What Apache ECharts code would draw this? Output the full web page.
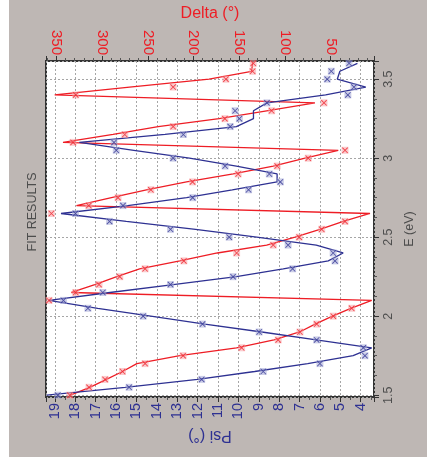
<!DOCTYPE html>
<html>
<head>
<meta charset="utf-8">
<script src="https://cdn.jsdelivr.net/npm/echarts@6/dist/echarts.min.js"></script>
<style>
  html, body { margin: 0; padding: 0; background: #ffffff; }
  #chart { width: 427px; height: 468px; }
</style>
</head>
<body>
<div id="chart"></div>
<script>
// Photon energy grid (eV)
const energy = [1.50, 1.55, 1.60, 1.65, 1.70, 1.75, 1.80, 1.85, 1.90, 1.95,
                2.00, 2.05, 2.10, 2.15, 2.20, 2.25, 2.30, 2.35, 2.40, 2.45,
                2.50, 2.55, 2.60, 2.65, 2.70, 2.75, 2.80, 2.85, 2.90, 2.95,
                3.00, 3.05, 3.10, 3.15, 3.20, 3.25, 3.30, 3.35, 3.40, 3.45,
                3.50, 3.55, 3.60];

// Measured ellipsometric angles (deg)
const psiMeasured = [18.86, 15.36, 11.8, 8.78, 6.0, 3.79, 3.87, 6.16, 8.98, 11.76,
                     14.67, 17.38, 18.58, 16.65, 13.33, 10.26, 7.34, 5.26, 5.35, 7.56,
                     10.45, 13.33, 16.32, 17.99, 15.66, 12.24, 9.5, 7.94, 8.48, 10.65,
                     13.2, 15.99, 16.1, 12.7, 10.4, 9.95, 10.16, 8.6, 4.63, 4.33,
                     5.64, 5.44, 4.57];
const deltaMeasured = [335.4, 314.3, 296.8, 277.7, 253, 211.4, 147.4, 107.4, 83.6, 65.3,
                       47.1, 27, 358.1, 328.9, 303.4, 280.7, 253, 210.6, 152.9, 112.8,
                       84.4, 59.8, 34.3, 355.5, 314.6, 282.6, 246.7, 201.1, 151.2, 108.5,
                       74.5, 34.3, 331.8, 275.2, 222.3, 165.7, 114.6, 57.3, 328.9, 222.3,
                       164.6, 135.4, 134.7];

// Model (fit) curves (deg)
const psiModel = [19.4, 15.55, 12.0, 9.2, 6.6, 4.37, 3.46, 6.18, 8.85, 11.65,
                  14.3, 16.9, 19.3, 16.3, 13.2, 10.1, 7.8, 5.59, 4.86, 6.18,
                  9.1, 12.1, 15.5, 18.7, 15.43, 12.54, 10.3, 8.1, 8.1, 10.1,
                  12.4, 15.13, 17.8, 13.6, 10.1, 9.26, 9.26, 8.6, 5.72, 3.75,
                  5.15, 5.02, 4.16];
const deltaModel = [334.7, 313.5, 295.3, 277.7, 262, 215, 153, 112, 84, 67,
                    48, 28, 5.1, 333.6, 308, 284, 259, 215, 174, 120,
                    89, 61.7, 36.2, 7, 328.1, 289.8, 251.5, 207.7, 156.6, 112.8,
                    78, 41.7, 342.8, 288, 238.7, 172, 120, 67.2, 351.9, 270,
                    183, 136.5, 135.4];

// Axis ranges
const psiRange = [3.347, 19.437];
const deltaRange = [2.6, 361.4];
const energyRange = [1.4886, 3.615];

const BLUE = '#2e3192';
const RED = '#ee1d25';
const GREY_TEXT = '#4d4d4d';
const FONT = '"Liberation Sans", Arial, sans-serif';

const pair = (vals) => vals.map((v, i) => [v, energy[i]]);

// Star-like cross used for the measured points
const crossPath = 'path://M0,1 L1,0 L10,9 L9,10 Z M9,0 L10,1 L1,10 L0,9 Z';

function markerLayers(vals, axisIdx, color, halo) {
  return [
    {
      type: 'scatter', xAxisIndex: axisIdx, yAxisIndex: 0,
      data: pair(vals), symbol: 'rect', symbolSize: 7,
      itemStyle: { color: halo, opacity: 0.55 }, z: 3, silent: true
    },
    {
      type: 'scatter', xAxisIndex: axisIdx, yAxisIndex: 0,
      data: pair(vals), symbol: crossPath, symbolSize: 6,
      itemStyle: { color: color }, z: 4, silent: true
    }
  ];
}

const chart = echarts.init(document.getElementById('chart'), null, { renderer: 'canvas' });

const option = {
  animation: false,
  backgroundColor: '#ffffff',
  graphic: [
    {
      type: 'rect', z: -10, silent: true,
      shape: { x: 9, y: 0, width: 418, height: 457 },
      style: { fill: '#beb7b4' }
    },
    {
      type: 'text', silent: true,
      x: 33, y: 212, rotation: Math.PI / 2,
      style: {
        text: 'FIT RESULTS', fill: GREY_TEXT, font: '12.5px ' + FONT,
        align: 'center', verticalAlign: 'middle'
      }
    }
  ],
  grid: {
    left: 46, top: 61, width: 328, height: 336,
    show: true, backgroundColor: '#ffffff',
    borderColor: '#333333', borderWidth: 2
  },
  xAxis: [
    {
      type: 'value', position: 'bottom', inverse: true,
      min: psiRange[0], max: psiRange[1], splitNumber: 16,
      name: 'Psi (°)', nameLocation: 'middle', nameGap: 29, nameRotate: 180,
      nameTextStyle: { color: BLUE, fontSize: 16, fontFamily: FONT },
      axisLine: { show: false },
      axisTick: { show: true, length: 5, lineStyle: { color: '#333' } },
      minorTick: { show: true, splitNumber: 2, length: 3, lineStyle: { color: '#555' } },
      axisLabel: {
        rotate: 90, margin: 6, color: BLUE, fontSize: 14.5, fontFamily: FONT,
        showMinLabel: false, showMaxLabel: false
      },
      splitLine: { show: true, lineStyle: { color: '#a6a6a6', type: [2, 2], width: 1 } }
    },
    {
      type: 'value', position: 'top', inverse: true,
      min: deltaRange[0], max: deltaRange[1], splitNumber: 7,
      name: 'Delta (°)', nameLocation: 'middle', nameGap: 35,
      nameTextStyle: { color: RED, fontSize: 16, fontFamily: FONT },
      axisLine: { show: false },
      axisTick: { show: true, length: 5, lineStyle: { color: '#333' } },
      minorTick: { show: true, splitNumber: 5, length: 3, lineStyle: { color: '#555' } },
      axisLabel: {
        rotate: 90, margin: 6, color: RED, fontSize: 15, fontFamily: FONT,
        showMinLabel: false, showMaxLabel: false
      },
      splitLine: { show: false }
    }
  ],
  yAxis: [
    {
      type: 'value', position: 'right',
      min: energyRange[0], max: energyRange[1], splitNumber: 4,
      name: 'E (eV)', nameLocation: 'middle', nameGap: 26, nameRotate: 90,
      nameTextStyle: { color: GREY_TEXT, fontSize: 12.5, fontFamily: FONT },
      axisLine: { show: false },
      axisTick: { show: true, length: 5, lineStyle: { color: '#333' } },
      minorTick: { show: true, splitNumber: 4, length: 3, lineStyle: { color: '#555' } },
      axisLabel: {
        rotate: 90, margin: 8, color: GREY_TEXT, fontSize: 12.5, fontFamily: FONT,
        showMinLabel: false, showMaxLabel: false
      },
      splitLine: { show: true, lineStyle: { color: '#a6a6a6', type: [2, 2], width: 1 } }
    }
  ],
  series: [
    {
      type: 'line', xAxisIndex: 1, yAxisIndex: 0, data: pair(deltaModel),
      showSymbol: false, lineStyle: { color: RED, width: 1.3 }, z: 2, silent: true
    },
    {
      type: 'line', xAxisIndex: 0, yAxisIndex: 0, data: pair(psiModel),
      showSymbol: false, lineStyle: { color: BLUE, width: 1.3 }, z: 2, silent: true
    },
    ...markerLayers(deltaMeasured, 1, RED, '#f7a3a6'),
    ...markerLayers(psiMeasured, 0, BLUE, '#a4a7d6')
  ]
};

chart.setOption(option);
</script>
</body>
</html>
